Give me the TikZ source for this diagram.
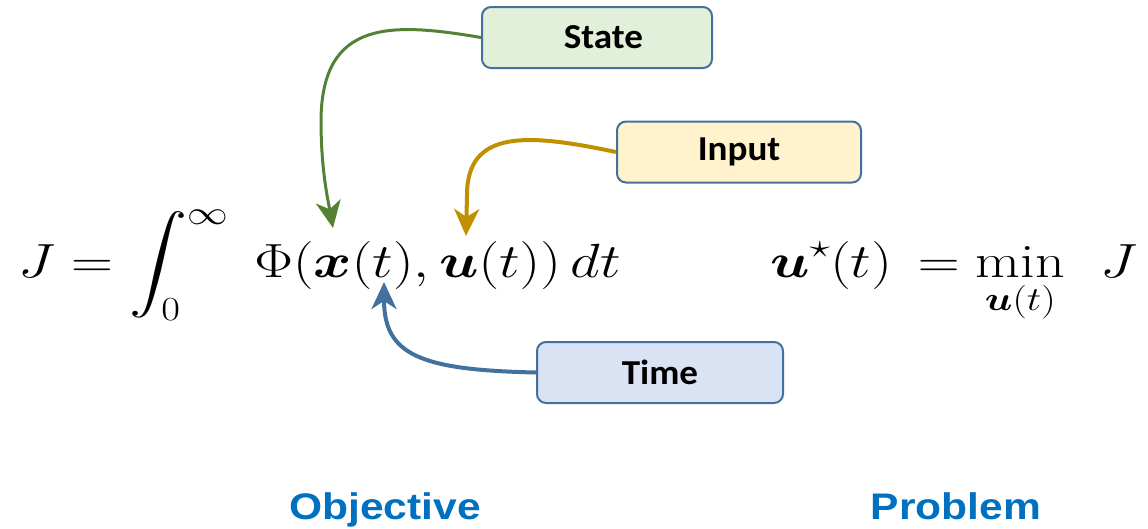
\RequirePackage{fix-cm}
\documentclass[tikz,border=0pt]{standalone}
\usepackage{amsmath,bm}
\usepackage{fontspec}
% let the large-symbol font scale freely with the math size
\DeclareFontShape{OMX}{cmex}{m}{n}{<-> cmex10}{}
\newfontfamily\boxfont{Carlito}
\newfontfamily\capfont{Liberation Sans}
\usetikzlibrary{arrows.meta}

\definecolor{stategreen}{HTML}{548235}
\definecolor{inputgold}{HTML}{BF9000}
\definecolor{timeblue}{HTML}{41719C}
\definecolor{boxedge}{HTML}{41719C}
\definecolor{statefill}{HTML}{E2F0D9}
\definecolor{inputfill}{HTML}{FFF2CC}
\definecolor{timefill}{HTML}{DAE3F3}
\definecolor{capblue}{HTML}{0070C0}

\tikzset{
  tag/.style={draw=boxedge, line width=2pt, rounded corners=9pt,
    minimum height=61pt, inner sep=0pt},
  tagtext/.style={inner sep=0pt, xscale=1.06,
    font=\boxfont\bfseries\fontsize{35}{42}\selectfont, text=black},
  pointer/.style={line width=#1pt,
    -{Stealth[length=27pt, width=25pt, inset=8pt]}},
  eqn/.style={inner sep=0pt, xscale=1.21, font=\fontsize{48}{58}\selectfont},
  caption/.style={inner sep=0pt, text=capblue, xscale=1.15,
    font=\capfont\bfseries\fontsize{37}{44}\selectfont},
}

\begin{document}
\begin{tikzpicture}[x=1pt, y=-1pt]
  \useasboundingbox (0,0) rectangle (1148,528);

  % equations
  \node[eqn, anchor=base west] (obj) at (18,277)
    {$\displaystyle J = \int_0^{\infty}\;\Phi(\bm{x}(t),\bm{u}(t))\,dt$};
  \node[eqn, anchor=base west] (prob) at (770,277)
    {$\displaystyle \bm{u}^{\star}(t)\,= \min_{\bm{u}(t)}\;\, J$};

  % labelled boxes
  \node[tag, fill=statefill, minimum width=230pt] (state) at (597,37.5) {};
  \node[tag, fill=inputfill, minimum width=244pt] (input) at (739,152) {};
  \node[tag, fill=timefill,  minimum width=246pt] (time)  at (660,372.5) {};
  \node[tagtext, xshift=6pt] (statelbl) at (state) {State};
  \node[tagtext] (inputlbl) at (input) {Input};
  \node[tagtext] (timelbl)  at (time)  {Time};

  % targets inside the integrand
  \coordinate (xsym) at (333,228);
  \coordinate (usym) at (466,236);
  \coordinate (tsym) at (384,282);

  % connectors
  \draw[pointer=3, stategreen] (state.west)
    .. controls (390,22) and (322,20) .. (321,120)
    .. controls (321,170) and (328,200) .. (xsym);
  \draw[pointer=4, inputgold] (input.west)
    .. controls (530,134) and (467,128) .. (467,195) -- (usym);
  \draw[pointer=4, timeblue] (time.west)
    .. controls (420,370) and (384,355) .. (tsym);

  % captions
  \node[caption, anchor=base] (objcap) at (385,519) {Objective};
  \node[caption, anchor=base] (probcap) at (956,519) {Problem};
\end{tikzpicture}
\end{document}
